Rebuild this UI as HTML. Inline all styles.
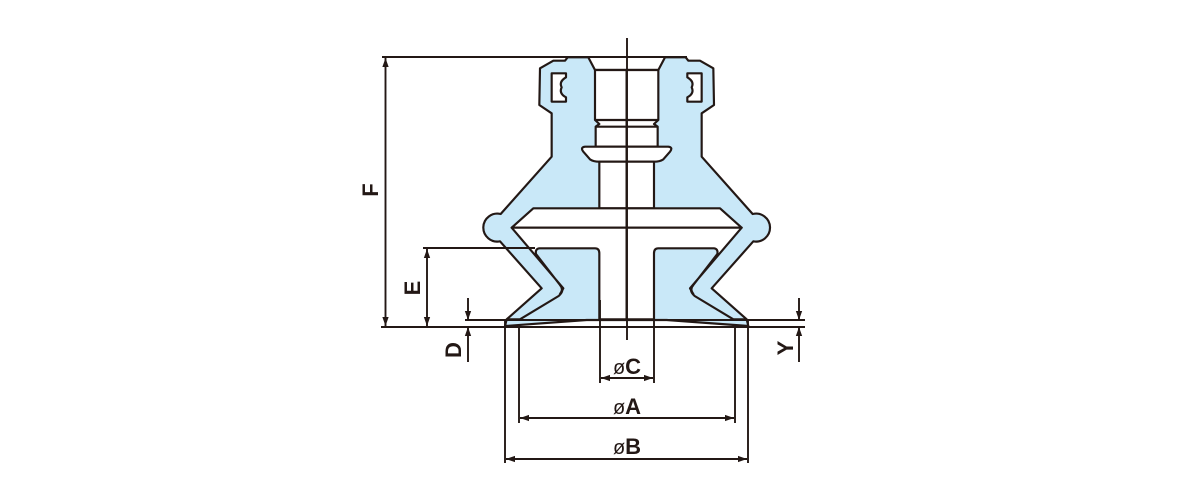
<!DOCTYPE html>
<html><head><meta charset="utf-8"><style>
html,body{margin:0;padding:0;background:#fff;}
svg{display:block;}
text{font-family:"Liberation Sans",Arial,sans-serif;font-weight:bold;fill:#231815;}
</style></head><body>
<svg width="1200" height="500" viewBox="0 0 1200 500" xmlns="http://www.w3.org/2000/svg">
<defs>
<marker id="ar" viewBox="0 0 10 10" refX="10" refY="5" markerWidth="9" markerHeight="9" markerUnits="userSpaceOnUse" orient="auto-start-reverse">
<path d="M0,1.5 L10,5 L0,8.5 Z" fill="#231815"/>
</marker>
<g id="half" stroke="#231815" stroke-width="6.5" stroke-linejoin="round">
  <circle cx="50" cy="563" r="36" fill="#c9e8f8"/>
  <path fill="#c9e8f8" d="M440,90 L345,90 L325,52 L263,52 L255,62 L220,62 L180,85 L178,195 L215,220 L215,350 L62,522 A42,42 0 1 0 60,604 L185,745 L80,838 L75,858 L320,840 L440,840 Z"/>
  <path fill="#fff" d="M215,100 L258,100 L258,112 Q236,125 245,142 Q236,160 258,172 L258,185 L215,185 Z"/>
  <path fill="#fff" d="M440,90 L345,90 L345,240 L358,252 L347,260 L347,320 L440,320 Z"/>
  <path fill="none" d="M345,240 L440,240 M347,260 L440,260"/>
  <path fill="#fff" d="M440,320 L315,320 Q300,322 310,335 L330,358 Q340,365 358,365 L440,365 Z"/>
  <path fill="#fff" d="M358,365 L358,505 L440,505 L440,365 Z"/>
  <path fill="#fff" d="M160,505 L440,505 L440,563 L95,563 Z"/>
  <path fill="#fff" d="M95,563 L440,563 L440,838 L358,838 L358,640 Q358,625 345,625 L178,625 Q165,627 168,642 L240,735 Q252,748 240,762 L250,745 Z"/>
  <path fill="none" d="M240,735 Q256,750 236,768 L120,838 L80,838"/>
</g>
</defs>
<g transform="translate(480,40) scale(0.33333)">
  <use href="#half"/>
  <use href="#half" transform="translate(880,0) scale(-1,1)"/>
</g>
<g stroke="#231815" stroke-width="1.9" fill="none">
  <line x1="627" y1="38" x2="627" y2="340"/>
  <line x1="382" y1="57" x2="687" y2="57"/>
  <line x1="381" y1="327" x2="805" y2="327"/>
  <line x1="465" y1="320" x2="805" y2="320"/>
  <line x1="423" y1="248" x2="535" y2="248"/>
  <line x1="385.5" y1="58" x2="385.5" y2="326" marker-start="url(#ar)" marker-end="url(#ar)"/>
  <line x1="427" y1="249" x2="427" y2="326" marker-start="url(#ar)" marker-end="url(#ar)"/>
  <line x1="468" y1="298" x2="468" y2="320" marker-end="url(#ar)"/>
  <line x1="468" y1="362" x2="468" y2="327" marker-end="url(#ar)"/>
  <line x1="799" y1="298" x2="799" y2="320" marker-end="url(#ar)"/>
  <line x1="799" y1="362" x2="799" y2="327" marker-end="url(#ar)"/>
  <line x1="600" y1="300" x2="600" y2="383"/>
  <line x1="654" y1="300" x2="654" y2="383"/>
  <line x1="601" y1="378" x2="653" y2="378" marker-start="url(#ar)" marker-end="url(#ar)"/>
  <line x1="519" y1="327" x2="519" y2="423"/>
  <line x1="735" y1="327" x2="735" y2="423"/>
  <line x1="520" y1="418" x2="734" y2="418" marker-start="url(#ar)" marker-end="url(#ar)"/>
  <line x1="505" y1="320" x2="505" y2="463"/>
  <line x1="748" y1="320" x2="748" y2="463"/>
  <line x1="506" y1="459" x2="747" y2="459" marker-start="url(#ar)" marker-end="url(#ar)"/>
</g>
<g font-size="22">
  <text transform="translate(378,190) rotate(-90)" text-anchor="middle">F</text>
  <text transform="translate(420,288) rotate(-90)" text-anchor="middle">E</text>
  <text transform="translate(461,350) rotate(-90)" text-anchor="middle">D</text>
  <text transform="translate(793,348) rotate(-90)" text-anchor="middle">Y</text>
  <text x="627" y="374" text-anchor="middle"><tspan font-size="20" font-weight="normal">ø</tspan>C</text>
  <text x="627" y="414" text-anchor="middle"><tspan font-size="20" font-weight="normal">ø</tspan>A</text>
  <text x="627" y="454" text-anchor="middle"><tspan font-size="20" font-weight="normal">ø</tspan>B</text>
</g>
</svg>
</body></html>
